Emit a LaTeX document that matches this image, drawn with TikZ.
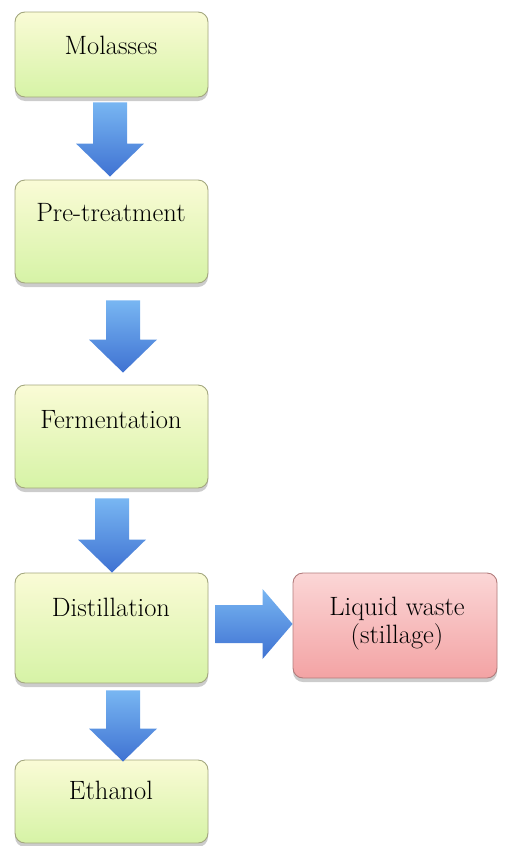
\documentclass[tikz,border=0pt]{standalone}
\usetikzlibrary{calc,shadows,positioning}
\definecolor{boxtop}{HTML}{FAFBD6}
\definecolor{boxbot}{HTML}{D6F3A6}
\definecolor{boxline}{HTML}{A3A77E}
\definecolor{wastetop}{HTML}{FBD6D6}
\definecolor{wastebot}{HTML}{F3A3A4}
\definecolor{wasteline}{HTML}{B27C7C}
\definecolor{arrowtop}{HTML}{78B6F2}
\definecolor{arrowbot}{HTML}{3F72D2}
\tikzset{
  stage/.style={rectangle, rounded corners=10pt, draw=boxline, line width=0.9pt,
    top color=boxtop, bottom color=boxbot, minimum width=193pt,
    drop shadow={shadow xshift=0pt, shadow yshift=-4pt, fill=black!50, opacity=0.4}},
  waste/.style={stage, draw=wasteline, top color=wastetop, bottom color=wastebot, minimum width=204pt},
  stagetext/.style={font=\fontsize{26.5}{28}\selectfont, align=center, inner sep=0pt},
  flow/.style={top color=arrowtop, bottom color=arrowbot, draw=none},
}
% block arrows between two coordinates
\newcommand{\downflow}[2]{%
  \shade[flow] ($(#1)+(-17,0)$) -- ($(#1)+(17,0)$) -- ($(#2)+(17,-33)$) -- ($(#2)+(34,-33)$)
    -- (#2) -- ($(#2)+(-34,-33)$) -- ($(#2)+(-17,-33)$) -- cycle;}
\newcommand{\rightflow}[2]{%
  \shade[flow] ($(#1)+(0,-19)$) -- ($(#2)+(-30,-19)$) -- ($(#2)+(-30,-35)$) -- (#2)
    -- ($(#2)+(-30,35)$) -- ($(#2)+(-30,19)$) -- ($(#1)+(0,19)$) -- cycle;}
\begin{document}
\begin{tikzpicture}[x=1pt,y=-1pt]
  \useasboundingbox (0,0) rectangle (508,846);
  % boxes
  \node[stage, minimum height=85pt] (molasses) at (111.5,54.5) {};
  \node[stage, minimum height=103pt] (pretreat) at (111.5,231.5) {};
  \node[stage, minimum height=103pt] (ferment) at (111.5,436.5) {};
  \node[stage, minimum height=110pt] (distill) at (111.5,628) {};
  \node[waste, minimum height=105pt] (liquid) at (395,625.5) {};
  \node[stage, minimum height=83pt] (ethanol) at (111.5,801.5) {};
  % texts
  \node[stagetext] (molassesTxt) at (111,45) {Molasses};
  \node[stagetext] (pretreatTxt) at (111,213) {Pre-treatment};
  \node[stagetext] (fermentTxt) at (111,420) {Fermentation};
  \node[stagetext] (distillTxt) at (111,607) {Distillation};
  \node[stagetext] (liquidTxt) at (397,624) {Liquid waste\\(stillage)};
  \node[stagetext] (ethanolTxt) at (111,790) {Ethanol};
  % arrows
  \coordinate (f1a) at ($(molasses.south)+(-1.5,5)$);
  \coordinate (f1b) at ($(f1a |- pretreat.north)+(0,-3)$);
  \coordinate (f2a) at ($(pretreat.south)+(11.5,17)$);
  \coordinate (f2b) at ($(f2a |- ferment.north)+(0,-12)$);
  \coordinate (f3a) at ($(ferment.south)+(0.5,10)$);
  \coordinate (f3b) at (f3a |- distill.north);
  \coordinate (f4a) at ($(distill.south)+(11.5,7)$);
  \coordinate (f4b) at ($(f4a |- ethanol.north)+(0,2)$);
  \coordinate (f5a) at ($(distill.east)+(7,-4)$);
  \coordinate (f5b) at (f5a -| liquid.west);
  \downflow{f1a}{f1b}
  \downflow{f2a}{f2b}
  \downflow{f3a}{f3b}
  \downflow{f4a}{f4b}
  \rightflow{f5a}{f5b}
\end{tikzpicture}
\end{document}
